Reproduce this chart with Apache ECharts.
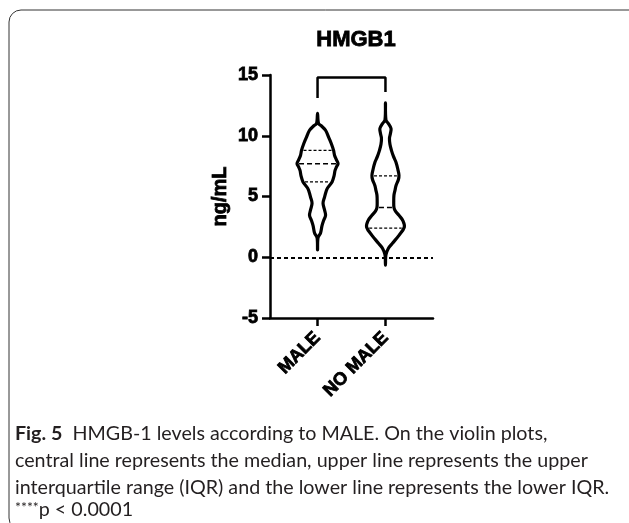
<!DOCTYPE html>
<html>
<head>
<meta charset="utf-8">
<script src="https://cdn.jsdelivr.net/npm/echarts@6/dist/echarts.min.js"></script>
<style>
  html, body { margin: 0; padding: 0; background: #fff; }
  #chart { width: 629px; height: 523px; }
</style>
</head>
<body>
<div id="chart"></div>
<script>
// nhóm và vị trí trên trục x
let groups = ['MALE', 'NO MALE'];
let groupX = [1, 2];

// đường viền violin: giá trị y và nửa bề rộng (đơn vị trục x)
let maleY = [0.6, 1.6, 2.0, 2.6, 3.0, 3.45, 3.9, 4.45, 4.95, 5.4, 5.7, 6.2, 6.7, 7.15, 7.45, 7.7, 8.0, 8.4, 8.8, 9.3, 9.8, 10.45, 10.8, 11.0, 11.85];
let maleW = [0, 0.007, 0.044, 0.066, 0.088, 0.118, 0.103, 0.081, 0.103, 0.125, 0.147, 0.214, 0.243, 0.258, 0.28, 0.302, 0.28, 0.25, 0.236, 0.206, 0.169, 0.118, 0.059, 0.015, 0];
let noMaleY = [-0.65, 0.2, 0.74, 1.15, 1.8, 2.47, 3.0, 3.45, 3.8, 4.1, 4.6, 5.1, 5.5, 5.9, 6.4, 6.75, 7.2, 7.8, 8.3, 8.8, 9.3, 9.8, 10.2, 10.6, 11.0, 11.3, 12.7];
let noMaleW = [0, 0.007, 0.044, 0.103, 0.199, 0.277, 0.258, 0.199, 0.147, 0.125, 0.122, 0.125, 0.14, 0.156, 0.191, 0.199, 0.184, 0.156, 0.118, 0.088, 0.066, 0.059, 0.074, 0.082, 0.044, 0.007, 0];

// tứ phân vị: Q1, trung vị, Q3
let maleQ = [6.2, 7.7, 8.8];
let noMaleQ = [2.4, 4.1, 6.7];

// đường nối so sánh (****)
let bracket = [[1, 13.1], [1, 14.8], [2, 14.8], [2, 13.6]];

let yTicks = { min: -5, max: 15, interval: 5 };

let violinY = [maleY, noMaleY];
let violinW = [maleW, noMaleW];
let violinQ = [maleQ, noMaleQ];

var myChart = echarts.init(document.getElementById('chart'));

function widthAt(ys, ws, y) {
    for (let i = 0; i < ys.length - 1; i++) {
        if (y >= ys[i] && y <= ys[i + 1]) {
            let t = (y - ys[i]) / (ys[i + 1] - ys[i]);
            return ws[i] + t * (ws[i + 1] - ws[i]);
        }
    }
    return 0;
}

function renderViolin(params, api) {
    let idx = params.dataIndex;
    let cx = api.value(0);
    let ys = violinY[idx];
    let ws = violinW[idx];
    let pts = [];
    for (let i = 0; i < ys.length; i++) {
        pts.push(api.coord([cx + ws[i], ys[i]]));
    }
    for (let i = ys.length - 2; i > 0; i--) {
        pts.push(api.coord([cx - ws[i], ys[i]]));
    }
    let children = [{
        type: 'polygon',
        shape: { points: pts, smooth: 0.35 },
        style: { fill: 'none', stroke: '#000', lineWidth: 3.2 }
    }];
    violinQ[idx].forEach(function (q, k) {
        let w = widthAt(ys, ws, q);
        let a = api.coord([cx - w, q]);
        let b = api.coord([cx + w, q]);
        children.push({
            type: 'line',
            shape: { x1: a[0] + 2, y1: a[1], x2: b[0] - 2, y2: b[1] },
            style: {
                stroke: '#000',
                lineWidth: k === 1 ? 1.4 : 1.1,
                lineDash: k === 1 ? [5, 3] : [3, 2]
            }
        });
    });
    return { type: 'group', children: children };
}

let boldFont = 'Liberation Sans';
// chữ đậm dày hơn như ảnh gốc
let heavy = { fontFamily: boldFont, fontWeight: 'bold', color: '#000', textBorderColor: '#000', textBorderWidth: 0.8 };

let option = {
    animation: false,
    backgroundColor: '#fff',
    title: {
        text: 'HMGB1',
        left: 351,
        textAlign: 'center',
        top: 24,
        textStyle: Object.assign({ fontSize: 22 }, heavy)
    },
    grid: { left: 270, right: 196, top: 75, bottom: 205, containLabel: false },
    xAxis: {
        type: 'value',
        min: 0.3,
        max: 2.7,
        axisLine: { onZero: false, lineStyle: { color: '#000', width: 2.5 } },
        axisTick: { show: true, customValues: groupX, length: 8, lineStyle: { color: '#000', width: 2.5 } },
        axisLabel: Object.assign({
            customValues: groupX,
            rotate: 45,
            margin: 17,
            formatter: function (v) { return groups[Math.round(v) - 1]; },
            fontSize: 18
        }, heavy),
        splitLine: { show: false }
    },
    yAxis: {
        type: 'value',
        min: yTicks.min,
        max: yTicks.max,
        interval: yTicks.interval,
        name: 'ng/mL',
        nameLocation: 'middle',
        nameGap: 40,
        nameTextStyle: Object.assign({ fontSize: 20 }, heavy),
        axisLine: { show: true, onZero: false, lineStyle: { color: '#000', width: 2.5 } },
        axisTick: { show: true, length: 8, lineStyle: { color: '#000', width: 2.5 } },
        axisLabel: Object.assign({ margin: 12, fontSize: 18 }, heavy),
        splitLine: { show: false }
    },
    series: [
        {
            type: 'custom',
            renderItem: renderViolin,
            data: groupX.map(x => [x]),
            encode: { x: 0 },
            markLine: {
                silent: true,
                symbol: 'none',
                label: { show: false },
                lineStyle: { color: '#000', type: [4, 3], width: 2 },
                data: [{ yAxis: 0 }]
            },
            z: 3
        },
        {
            type: 'line',
            data: bracket,
            showSymbol: false,
            lineStyle: { color: '#000', width: 2.5 },
            z: 3
        }
    ],
    graphic: [
        {
            type: 'rect',
            shape: { x: 9, y: 10, width: 700, height: 520, r: 12 },
            style: { fill: 'none', stroke: '#333', lineWidth: 1 },
            silent: true
        },
        {
            type: 'text', left: 15, top: 424,
            style: {
                text: '{b|Fig. 5}  HMGB-1 levels according to MALE. On the violin plots,',
                font: '19.7px Lato', fill: '#231f20',
                rich: { b: { fontFamily: 'Lato', fontWeight: 'bold', fontSize: 19.7, fill: '#231f20' } }
            }
        },
        {
            type: 'text', left: 15, top: 451,
            style: { text: 'central line represents the median, upper line represents the upper', font: '19.7px Lato', fill: '#231f20' }
        },
        {
            type: 'text', left: 15, top: 478,
            style: { text: 'interquartile range (IQR) and the lower line represents the lower IQR.', font: '19.7px Lato', fill: '#231f20' }
        },
        {
            type: 'text', left: 15, top: 500,
            style: {
                text: '{s|****}p < 0.0001',
                font: '19.7px Lato', fill: '#231f20',
                rich: { s: { fontSize: 14, fontFamily: 'Lato', verticalAlign: 'top', padding: [0, 0, 6, 0] } }
            }
        }
    ]
};

myChart.setOption(option);
</script>
</body>
</html>
